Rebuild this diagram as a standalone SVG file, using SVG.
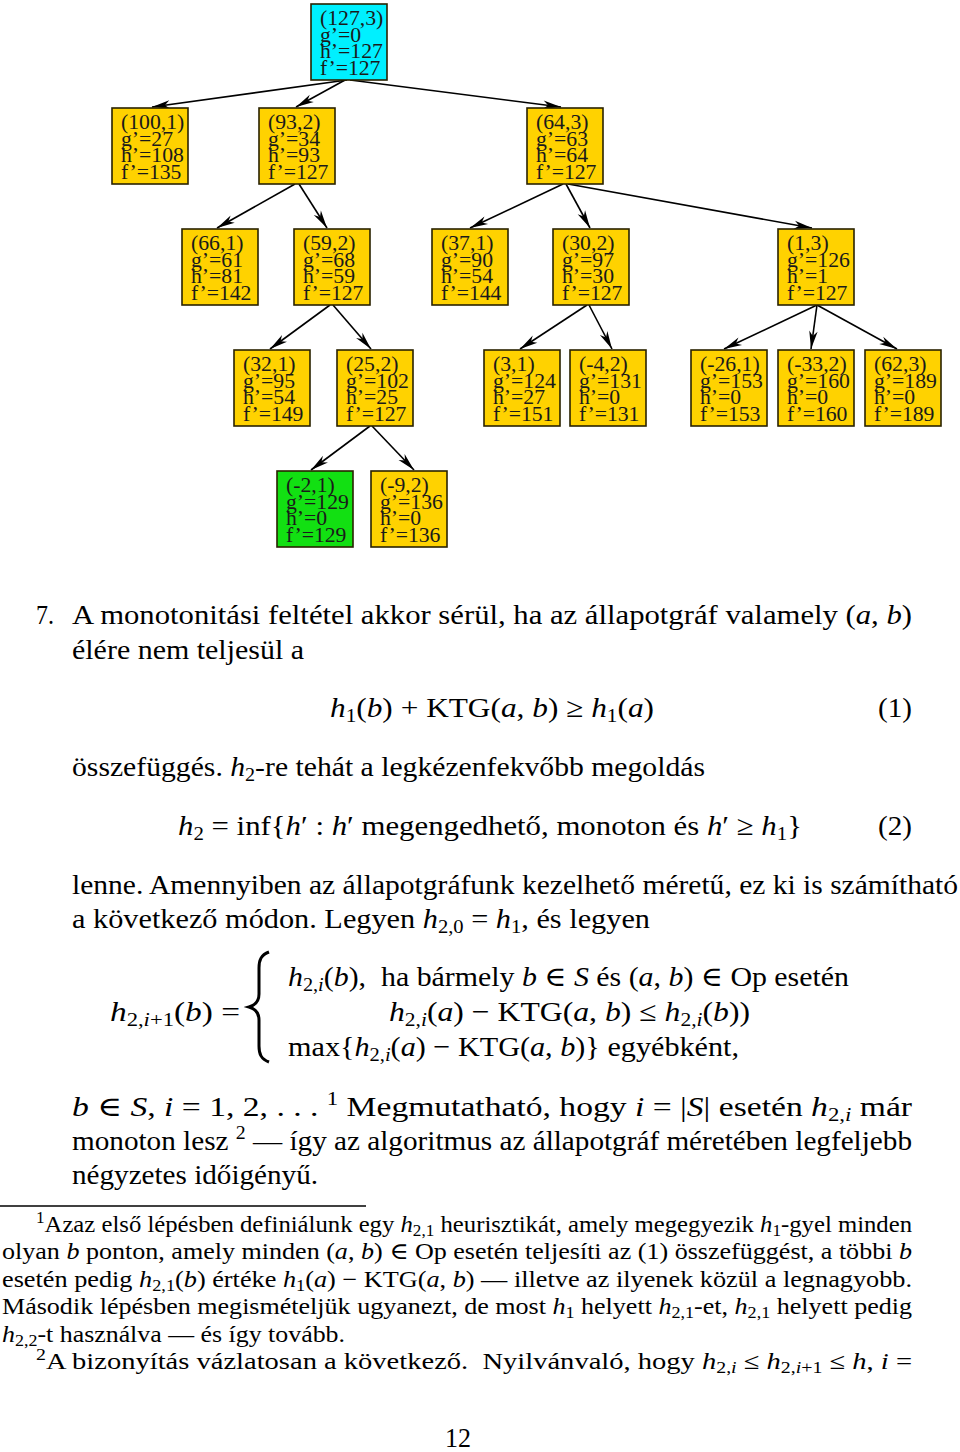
<svg xmlns="http://www.w3.org/2000/svg" width="960" height="1452" viewBox="0 0 960 1452">
<style>
.box{stroke:#2a2200;stroke-width:1.6}
.gold{fill:#FFD200}
.cyan{fill:#00F0FF}
.green{fill:#12E012}
.nt{font-family:"Liberation Serif","DejaVu Serif",serif;font-size:20.5px;fill:#1a1a1a}
.e{stroke:#000;stroke-width:1.6;fill:none;marker-end:url(#ah)}
.t{font-family:"Liberation Serif","DejaVu Serif",serif;font-size:28px;fill:#000}
.fn{font-size:23px}
.i{font-style:italic}
.s{font-size:19px}
.fs{font-size:16px}
</style>
<defs>
<marker id="ah" viewBox="-19 -5 20 10" refX="0" refY="0" markerWidth="20" markerHeight="10" markerUnits="userSpaceOnUse" orient="auto"><path d="M0,0 L-18,-4.2 L-13,0 L-18,4.2 Z" fill="#000"/></marker>
</defs>
<rect width="960" height="1452" fill="#fff"/>
<g id="edges">
<line class="e" x1="347" y1="80" x2="152" y2="107"/>
<line class="e" x1="345" y1="80" x2="296" y2="107"/>
<line class="e" x1="350" y1="80" x2="561" y2="107"/>
<line class="e" x1="295" y1="184" x2="217" y2="228"/>
<line class="e" x1="299" y1="184" x2="327" y2="228"/>
<line class="e" x1="563" y1="184" x2="470" y2="228"/>
<line class="e" x1="566" y1="184" x2="590" y2="228"/>
<line class="e" x1="568" y1="184" x2="812" y2="228"/>
<line class="e" x1="330" y1="305" x2="270" y2="349"/>
<line class="e" x1="333" y1="305" x2="371" y2="349"/>
<line class="e" x1="587" y1="305" x2="520" y2="349"/>
<line class="e" x1="589" y1="305" x2="612" y2="349"/>
<line class="e" x1="817" y1="305" x2="724" y2="349"/>
<line class="e" x1="817" y1="305" x2="811" y2="349"/>
<line class="e" x1="817" y1="305" x2="897" y2="349"/>
<line class="e" x1="370" y1="426" x2="311" y2="470"/>
<line class="e" x1="372" y1="426" x2="414" y2="470"/>
</g>
<g id="n_127_3" transform="translate(311,4)"><rect class="box cyan" width="76" height="76"/><text class="nt" transform="translate(9,0) scale(1.06,1)"><tspan x="0" y="21">(127,3)</tspan><tspan x="0" y="38">g’=0</tspan><tspan x="0" y="54.5">h’=127</tspan><tspan x="0" y="71">f’=127</tspan></text></g>
<g id="n_100_1" transform="translate(112,108)"><rect class="box gold" width="76" height="76"/><text class="nt" transform="translate(9,0) scale(1.06,1)"><tspan x="0" y="21">(100,1)</tspan><tspan x="0" y="38">g’=27</tspan><tspan x="0" y="54.5">h’=108</tspan><tspan x="0" y="71">f’=135</tspan></text></g>
<g id="n_93_2" transform="translate(259,108)"><rect class="box gold" width="76" height="76"/><text class="nt" transform="translate(9,0) scale(1.06,1)"><tspan x="0" y="21">(93,2)</tspan><tspan x="0" y="38">g’=34</tspan><tspan x="0" y="54.5">h’=93</tspan><tspan x="0" y="71">f’=127</tspan></text></g>
<g id="n_64_3" transform="translate(527,108)"><rect class="box gold" width="76" height="76"/><text class="nt" transform="translate(9,0) scale(1.06,1)"><tspan x="0" y="21">(64,3)</tspan><tspan x="0" y="38">g’=63</tspan><tspan x="0" y="54.5">h’=64</tspan><tspan x="0" y="71">f’=127</tspan></text></g>
<g id="n_66_1" transform="translate(182,229)"><rect class="box gold" width="76" height="76"/><text class="nt" transform="translate(9,0) scale(1.06,1)"><tspan x="0" y="21">(66,1)</tspan><tspan x="0" y="38">g’=61</tspan><tspan x="0" y="54.5">h’=81</tspan><tspan x="0" y="71">f’=142</tspan></text></g>
<g id="n_59_2" transform="translate(294,229)"><rect class="box gold" width="76" height="76"/><text class="nt" transform="translate(9,0) scale(1.06,1)"><tspan x="0" y="21">(59,2)</tspan><tspan x="0" y="38">g’=68</tspan><tspan x="0" y="54.5">h’=59</tspan><tspan x="0" y="71">f’=127</tspan></text></g>
<g id="n_37_1" transform="translate(432,229)"><rect class="box gold" width="76" height="76"/><text class="nt" transform="translate(9,0) scale(1.06,1)"><tspan x="0" y="21">(37,1)</tspan><tspan x="0" y="38">g’=90</tspan><tspan x="0" y="54.5">h’=54</tspan><tspan x="0" y="71">f’=144</tspan></text></g>
<g id="n_30_2" transform="translate(553,229)"><rect class="box gold" width="76" height="76"/><text class="nt" transform="translate(9,0) scale(1.06,1)"><tspan x="0" y="21">(30,2)</tspan><tspan x="0" y="38">g’=97</tspan><tspan x="0" y="54.5">h’=30</tspan><tspan x="0" y="71">f’=127</tspan></text></g>
<g id="n_1_3" transform="translate(778,229)"><rect class="box gold" width="76" height="76"/><text class="nt" transform="translate(9,0) scale(1.06,1)"><tspan x="0" y="21">(1,3)</tspan><tspan x="0" y="38">g’=126</tspan><tspan x="0" y="54.5">h’=1</tspan><tspan x="0" y="71">f’=127</tspan></text></g>
<g id="n_32_1" transform="translate(234,350)"><rect class="box gold" width="76" height="76"/><text class="nt" transform="translate(9,0) scale(1.06,1)"><tspan x="0" y="21">(32,1)</tspan><tspan x="0" y="38">g’=95</tspan><tspan x="0" y="54.5">h’=54</tspan><tspan x="0" y="71">f’=149</tspan></text></g>
<g id="n_25_2" transform="translate(337,350)"><rect class="box gold" width="76" height="76"/><text class="nt" transform="translate(9,0) scale(1.06,1)"><tspan x="0" y="21">(25,2)</tspan><tspan x="0" y="38">g’=102</tspan><tspan x="0" y="54.5">h’=25</tspan><tspan x="0" y="71">f’=127</tspan></text></g>
<g id="n_3_1" transform="translate(484,350)"><rect class="box gold" width="76" height="76"/><text class="nt" transform="translate(9,0) scale(1.06,1)"><tspan x="0" y="21">(3,1)</tspan><tspan x="0" y="38">g’=124</tspan><tspan x="0" y="54.5">h’=27</tspan><tspan x="0" y="71">f’=151</tspan></text></g>
<g id="n_m4_2" transform="translate(570,350)"><rect class="box gold" width="76" height="76"/><text class="nt" transform="translate(9,0) scale(1.06,1)"><tspan x="0" y="21">(-4,2)</tspan><tspan x="0" y="38">g’=131</tspan><tspan x="0" y="54.5">h’=0</tspan><tspan x="0" y="71">f’=131</tspan></text></g>
<g id="n_m26_1" transform="translate(691,350)"><rect class="box gold" width="76" height="76"/><text class="nt" transform="translate(9,0) scale(1.06,1)"><tspan x="0" y="21">(-26,1)</tspan><tspan x="0" y="38">g’=153</tspan><tspan x="0" y="54.5">h’=0</tspan><tspan x="0" y="71">f’=153</tspan></text></g>
<g id="n_m33_2" transform="translate(778,350)"><rect class="box gold" width="76" height="76"/><text class="nt" transform="translate(9,0) scale(1.06,1)"><tspan x="0" y="21">(-33,2)</tspan><tspan x="0" y="38">g’=160</tspan><tspan x="0" y="54.5">h’=0</tspan><tspan x="0" y="71">f’=160</tspan></text></g>
<g id="n_62_3" transform="translate(865,350)"><rect class="box gold" width="76" height="76"/><text class="nt" transform="translate(9,0) scale(1.06,1)"><tspan x="0" y="21">(62,3)</tspan><tspan x="0" y="38">g’=189</tspan><tspan x="0" y="54.5">h’=0</tspan><tspan x="0" y="71">f’=189</tspan></text></g>
<g id="n_m2_1" transform="translate(277,471)"><rect class="box green" width="76" height="76"/><text class="nt" transform="translate(9,0) scale(1.06,1)"><tspan x="0" y="21">(-2,1)</tspan><tspan x="0" y="38">g’=129</tspan><tspan x="0" y="54.5">h’=0</tspan><tspan x="0" y="71">f’=129</tspan></text></g>
<g id="n_m9_2" transform="translate(371,471)"><rect class="box gold" width="76" height="76"/><text class="nt" transform="translate(9,0) scale(1.06,1)"><tspan x="0" y="21">(-9,2)</tspan><tspan x="0" y="38">g’=136</tspan><tspan x="0" y="54.5">h’=0</tspan><tspan x="0" y="71">f’=136</tspan></text></g>

<g id="body">
<text class="t" x="36" y="624" textLength="18" lengthAdjust="spacingAndGlyphs">7.</text>
<text class="t" x="72" y="624" textLength="840" lengthAdjust="spacingAndGlyphs">A monotonitási feltétel akkor sérül, ha az állapotgráf valamely (<tspan class="i">a</tspan>, <tspan class="i">b</tspan>)</text>
<text class="t" x="72" y="659" textLength="232" lengthAdjust="spacingAndGlyphs">élére nem teljesül a</text>
<text class="t" x="330" y="717" textLength="324" lengthAdjust="spacingAndGlyphs"><tspan class="i">h</tspan><tspan class="s" dy="5">1</tspan><tspan dy="-5">(</tspan><tspan class="i">b</tspan>) + KTG(<tspan class="i">a</tspan>, <tspan class="i">b</tspan>) ≥ <tspan class="i">h</tspan><tspan class="s" dy="5">1</tspan><tspan dy="-5">(</tspan><tspan class="i">a</tspan>)</text>
<text class="t" x="878" y="717" textLength="34" lengthAdjust="spacingAndGlyphs">(1)</text>
<text class="t" x="72" y="776" textLength="633" lengthAdjust="spacingAndGlyphs">összefüggés. <tspan class="i">h</tspan><tspan class="s" dy="5">2</tspan><tspan dy="-5">-re tehát a legkézenfekvőbb megoldás</tspan></text>
<text class="t" x="178" y="835" textLength="624" lengthAdjust="spacingAndGlyphs"><tspan class="i">h</tspan><tspan class="s" dy="5">2</tspan><tspan dy="-5"> = inf{</tspan><tspan class="i">h</tspan>′ : <tspan class="i">h</tspan>′ megengedhető, monoton és <tspan class="i">h</tspan>′ ≥ <tspan class="i">h</tspan><tspan class="s" dy="5">1</tspan><tspan dy="-5">}</tspan></text>
<text class="t" x="878" y="835" textLength="34" lengthAdjust="spacingAndGlyphs">(2)</text>
<text class="t" x="72" y="894" textLength="886" lengthAdjust="spacingAndGlyphs">lenne. Amennyiben az állapotgráfunk kezelhető méretű, ez ki is számítható</text>
<text class="t" x="72" y="928" textLength="578" lengthAdjust="spacingAndGlyphs">a következő módon. Legyen <tspan class="i">h</tspan><tspan class="s" dy="5">2,0</tspan><tspan dy="-5"> = </tspan><tspan class="i">h</tspan><tspan class="s" dy="5">1</tspan><tspan dy="-5">, és legyen</tspan></text>

<text class="t" x="110" y="1021" textLength="130" lengthAdjust="spacingAndGlyphs"><tspan class="i">h</tspan><tspan class="s" dy="5">2,<tspan class="i">i</tspan>+1</tspan><tspan dy="-5">(</tspan><tspan class="i">b</tspan>) =</text>
<path d="M269,952 C261,955 259,960 259,968 L259,994 C259,1001 256,1005 249,1007 C256,1009 259,1013 259,1020 L259,1046 C259,1054 261,1059 269,1062" fill="none" stroke="#000" stroke-width="3"/>
<text class="t" x="288" y="986" textLength="561" lengthAdjust="spacingAndGlyphs"><tspan class="i">h</tspan><tspan class="s" dy="5">2,<tspan class="i">i</tspan></tspan><tspan dy="-5">(</tspan><tspan class="i">b</tspan>),&#160; ha bármely <tspan class="i">b</tspan> ∈ <tspan class="i">S</tspan> és (<tspan class="i">a</tspan>, <tspan class="i">b</tspan>) ∈ Op esetén</text>
<text class="t" x="389" y="1021" textLength="361" lengthAdjust="spacingAndGlyphs"><tspan class="i">h</tspan><tspan class="s" dy="5">2,<tspan class="i">i</tspan></tspan><tspan dy="-5">(</tspan><tspan class="i">a</tspan>) − KTG(<tspan class="i">a</tspan>, <tspan class="i">b</tspan>) ≤ <tspan class="i">h</tspan><tspan class="s" dy="5">2,<tspan class="i">i</tspan></tspan><tspan dy="-5">(</tspan><tspan class="i">b</tspan>))</text>
<text class="t" x="288" y="1056" textLength="451" lengthAdjust="spacingAndGlyphs">max{<tspan class="i">h</tspan><tspan class="s" dy="5">2,<tspan class="i">i</tspan></tspan><tspan dy="-5">(</tspan><tspan class="i">a</tspan>) − KTG(<tspan class="i">a</tspan>, <tspan class="i">b</tspan>)} egyébként,</text>

<text class="t" x="72" y="1116" textLength="840" lengthAdjust="spacingAndGlyphs"><tspan class="i">b</tspan> ∈ <tspan class="i">S</tspan>, <tspan class="i">i</tspan> = 1, 2, . . . <tspan class="s" dy="-11">1</tspan><tspan dy="11"> Megmutatható, hogy </tspan><tspan class="i">i</tspan> = |<tspan class="i">S</tspan>| esetén <tspan class="i">h</tspan><tspan class="s" dy="5">2,<tspan class="i">i</tspan></tspan><tspan dy="-5"> már</tspan></text>
<text class="t" x="72" y="1150" textLength="840" lengthAdjust="spacingAndGlyphs">monoton lesz <tspan class="s" dy="-11">2</tspan><tspan dy="11"> — így az algoritmus az állapotgráf méretében legfeljebb</tspan></text>
<text class="t" x="72" y="1184" textLength="246" lengthAdjust="spacingAndGlyphs">négyzetes időigényű.</text>
</g>

<g id="footnotes">
<line x1="0" y1="1206" x2="366" y2="1206" stroke="#000" stroke-width="1.5"/>
<text class="t fn" x="36" y="1232" textLength="876" lengthAdjust="spacingAndGlyphs"><tspan class="fs" dy="-9">1</tspan><tspan dy="9">Azaz első lépésben definiálunk egy </tspan><tspan class="i">h</tspan><tspan class="fs" dy="4">2,1</tspan><tspan dy="-4"> heurisztikát, amely megegyezik </tspan><tspan class="i">h</tspan><tspan class="fs" dy="4">1</tspan><tspan dy="-4">-gyel minden</tspan></text>
<text class="t fn" x="2" y="1259" textLength="910" lengthAdjust="spacingAndGlyphs">olyan <tspan class="i">b</tspan> ponton, amely minden (<tspan class="i">a</tspan>, <tspan class="i">b</tspan>) ∈ Op esetén teljesíti az (1) összefüggést, a többi <tspan class="i">b</tspan></text>
<text class="t fn" x="2" y="1287" textLength="910" lengthAdjust="spacingAndGlyphs">esetén pedig <tspan class="i">h</tspan><tspan class="fs" dy="4">2,1</tspan><tspan dy="-4">(</tspan><tspan class="i">b</tspan>) értéke <tspan class="i">h</tspan><tspan class="fs" dy="4">1</tspan><tspan dy="-4">(</tspan><tspan class="i">a</tspan>) − KTG(<tspan class="i">a</tspan>, <tspan class="i">b</tspan>) — illetve az ilyenek közül a legnagyobb.</text>
<text class="t fn" x="2" y="1314" textLength="910" lengthAdjust="spacingAndGlyphs">Második lépésben megismételjük ugyanezt, de most <tspan class="i">h</tspan><tspan class="fs" dy="4">1</tspan><tspan dy="-4"> helyett </tspan><tspan class="i">h</tspan><tspan class="fs" dy="4">2,1</tspan><tspan dy="-4">-et, </tspan><tspan class="i">h</tspan><tspan class="fs" dy="4">2,1</tspan><tspan dy="-4"> helyett pedig</tspan></text>
<text class="t fn" x="2" y="1342" textLength="343" lengthAdjust="spacingAndGlyphs"><tspan class="i">h</tspan><tspan class="fs" dy="4">2,2</tspan><tspan dy="-4">-t használva — és így tovább.</tspan></text>
<text class="t fn" x="36" y="1369" textLength="876" lengthAdjust="spacingAndGlyphs"><tspan class="fs" dy="-9">2</tspan><tspan dy="9">A bizonyítás vázlatosan a következő.&#160; Nyilvánvaló, hogy </tspan><tspan class="i">h</tspan><tspan class="fs" dy="4">2,<tspan class="i">i</tspan></tspan><tspan dy="-4"> ≤ </tspan><tspan class="i">h</tspan><tspan class="fs" dy="4">2,<tspan class="i">i</tspan>+1</tspan><tspan dy="-4"> ≤ </tspan><tspan class="i">h</tspan>, <tspan class="i">i</tspan> =</text>
</g>
<text class="t" x="445" y="1447" textLength="26" lengthAdjust="spacingAndGlyphs">12</text>
</svg>
